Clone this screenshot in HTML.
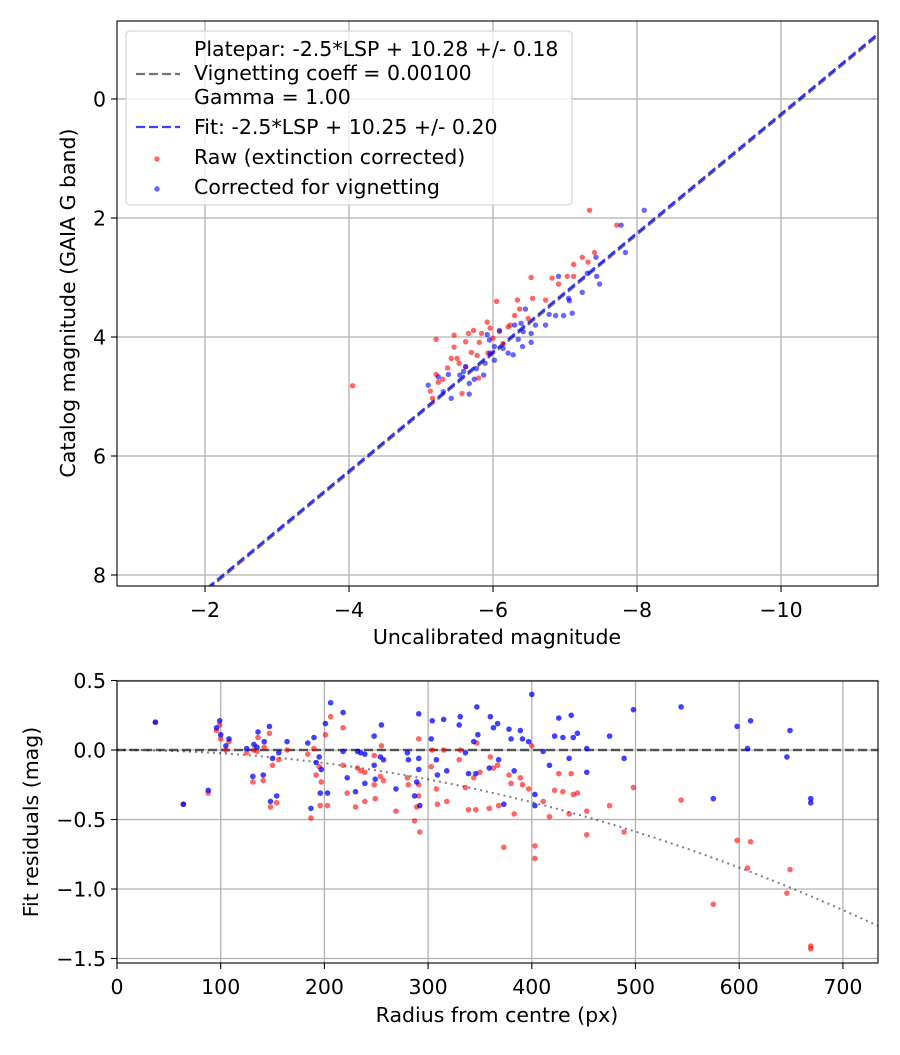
<!DOCTYPE html>
<html><head><meta charset="utf-8"><style>
html,body{margin:0;padding:0;background:#fff;}
svg text{font-family:"DejaVu Sans","Liberation Sans",sans-serif;fill:#000;}
</style></head><body>
<svg id="fig" width="900" height="1050" xmlns="http://www.w3.org/2000/svg"></svg>
<script>
// ---------- Top chart data ----------
const rawMag = [-7.34,-7.72,-7.41,-7.24,-7.12,-7.32,-6.53,-6.82,-6.91,-7.03,-7.12,-6.05,-6.34,-6.55,-6.73,-6.37,-6.49,-6.30,-5.92,-5.96,-5.73,-5.66,-5.46,-5.21,-5.46,-5.62,-5.81,-5.84,-5.70,-5.78,-5.50,-5.42,-5.53,-5.62,-5.37,-5.21,-5.30,-5.24,-5.13,-5.16,-5.57,-5.80,-6.21,-6.24,-6.09,-6.00,-6.14,-5.93,-4.05];
const rawCat = [1.87,2.12,2.58,2.66,2.78,2.74,3.00,3.01,3.11,2.98,2.98,3.40,3.38,3.35,3.38,3.53,3.69,3.64,3.75,3.85,3.89,3.94,3.97,4.04,4.17,4.08,4.09,3.94,4.26,4.31,4.36,4.36,4.44,4.50,4.52,4.63,4.71,4.76,4.91,5.03,4.95,4.69,3.83,3.80,3.91,4.02,4.11,4.27,4.82];
const corMag = [-8.10,-7.78,-7.84,-7.43,-7.31,-7.44,-7.48,-6.91,-7.05,-7.06,-7.24,-7.10,-6.98,-6.87,-6.78,-6.73,-6.59,-6.45,-6.39,-6.53,-6.53,-6.41,-6.35,-6.28,-6.21,-6.14,-6.09,-6.02,-5.92,-5.96,-5.89,-5.77,-5.87,-5.62,-5.59,-5.54,-5.74,-5.67,-5.38,-5.24,-5.10,-5.31,-5.42,-5.67,-6.42,-6.30,-6.02,-5.95];
const corCat = [1.87,2.12,2.58,2.66,2.93,2.98,3.11,2.98,3.35,3.39,3.25,3.60,3.64,3.64,3.62,3.80,3.80,3.53,3.77,3.94,4.09,4.16,4.04,4.30,4.27,4.19,3.89,4.16,3.96,4.27,4.44,4.53,4.64,4.50,4.58,4.64,4.71,4.78,4.63,4.67,4.81,4.92,5.03,4.96,3.91,3.80,4.39,4.05];
const platepar = [10.28];
const fitZero = [10.25];
const topXTicks = [-2,-4,-6,-8,-10];
const topYTicks = [0,2,4,6,8];
// ---------- Bottom chart data ----------
const redR = [37,64,88,96,99,100,105,108,125,131,132,136,135,141,142,147,148,150,154,156,164,184,187,190,192,195,197,196,201,203,206,218,218,222,230,232,235,239,239,248,248,249,254,255,257,269,280,281,287,291,291,292,289,291,303,304,308,309,315,318,330,331,336,339,344,346,347,359,360,363,350,367,368,373,378,380,383,389,391,397,400,403,403,411,417,422,426,430,436,438,440,444,453,453,475,489,498,544,575,598,608,611,646,649,669,669];
const redRes = [0.20,-0.39,-0.31,0.14,0.18,0.08,0.00,0.06,-0.02,-0.23,0.00,0.09,-0.01,-0.22,0.02,0.12,-0.41,-0.11,-0.38,-0.07,0.00,-0.03,-0.49,0.01,-0.18,-0.12,-0.23,-0.40,0.11,-0.40,0.24,0.16,-0.11,-0.31,-0.41,-0.13,-0.15,-0.37,-0.16,-0.04,-0.25,-0.35,-0.19,0.03,-0.22,-0.44,-0.20,-0.25,-0.51,0.08,-0.25,-0.59,-0.41,-0.33,-0.12,0.00,-0.28,-0.39,0.00,-0.37,-0.07,0.00,-0.27,-0.43,-0.20,-0.43,0.05,-0.42,-0.05,-0.13,-0.16,-0.11,-0.40,-0.70,-0.18,-0.24,-0.46,-0.20,-0.25,-0.28,0.03,-0.69,-0.78,-0.37,-0.48,-0.29,-0.17,-0.30,-0.46,-0.17,-0.32,-0.31,-0.44,-0.61,-0.40,-0.59,-0.27,-0.36,-1.11,-0.65,-0.85,-0.66,-1.03,-0.86,-1.41,-1.43];
const blueR = [37,64,88,96,99,100,105,108,125,131,132,135,136,141,142,147,148,150,154,156,164,184,187,190,192,195,196,197,201,203,206,218,218,222,230,232,235,239,239,248,248,249,254,255,257,269,280,281,287,291,291,291,289,292,303,304,308,309,315,318,330,331,336,339,344,346,347,348,359,360,363,367,378,380,389,391,397,400,411,417,422,426,430,436,438,440,444,453,453,475,489,498,544,575,598,608,611,646,649,669,669,368,373,383,403,403];
const blueRes = [0.20,-0.39,-0.29,0.16,0.21,0.11,0.03,0.08,0.01,-0.19,0.04,0.02,0.13,-0.18,0.06,0.17,-0.37,-0.06,-0.33,-0.02,0.06,0.05,-0.42,0.09,-0.09,-0.05,-0.31,-0.14,0.19,-0.31,0.34,0.27,-0.01,-0.20,-0.30,-0.01,-0.02,-0.24,-0.03,0.10,-0.11,-0.21,-0.05,0.18,-0.07,-0.28,-0.02,-0.07,-0.33,0.26,-0.06,-0.14,-0.23,-0.40,0.08,0.21,-0.07,-0.18,0.22,-0.15,0.18,0.24,-0.02,-0.17,0.06,-0.17,0.31,0.11,-0.13,0.24,0.16,0.19,0.15,0.08,0.14,0.08,0.06,0.40,-0.01,-0.11,0.10,0.23,0.09,-0.06,0.25,0.09,0.12,0.01,-0.16,0.10,-0.06,0.29,0.31,-0.35,0.17,0.01,0.21,-0.05,0.14,-0.35,-0.38,-0.07,-0.39,-0.15,-0.32,-0.40];
const vignCoeff = [2.35e-6];
const botXTicks = [0,100,200,300,400,500,600,700];
const botYTicks = [0.5,0.0,-0.5,-1.0,-1.5];
const botYLabels = ["0.5","0.0","\u22120.5","\u22121.0","\u22121.5"];

const FS = 20.5;
const NS = "http://www.w3.org/2000/svg";
const svg = document.getElementById('fig');
function mk(tag, attrs, parent){const e=document.createElementNS(NS,tag);for(const k in attrs)e.setAttribute(k,attrs[k]);(parent||svg).appendChild(e);return e;}
function txt(s,x,y,attrs,parent){const e=mk('text',Object.assign({x:x,y:y,'font-size':FS},attrs),parent);e.textContent=s;return e;}

const T={l:117,r:878,t:21,b:586};
const tx=v=>205+(-2-v)*72;
const ty=v=>99+v*59.5;
const B={l:117,r:878,t:681,b:963};
const bx=v=>117+v*1.037;
const by=v=>750-v*139;

const gTop=mk('g',{});


const cpt=mk('clipPath',{id:'ct'},gTop);mk('rect',{x:T.l,y:T.t,width:T.r-T.l,height:T.b-T.t},cpt);
topXTicks.forEach(v=>{const x=tx(v);
 const g=mk('line',{x1:x,x2:x,y1:T.t,y2:T.b,stroke:'#b0b0b0','stroke-width':1.3},gTop);
 
 mk('line',{x1:x,x2:x,y1:T.b,y2:T.b+6,stroke:'#000','stroke-width':1.1},gTop);
 const t=txt(v<0?'\u2212'+Math.abs(v):String(v),x,T.b+31,{'text-anchor':'middle'},gTop);
 });
topYTicks.forEach(v=>{const y=ty(v);
 const g=mk('line',{x1:T.l,x2:T.r,y1:y,y2:y,stroke:'#b0b0b0','stroke-width':1.3},gTop);
 
 mk('line',{x1:T.l-6,x2:T.l,y1:y,y2:y,stroke:'#000','stroke-width':1.1},gTop);
 const t=txt(String(v),T.l-11,y+7.5,{'text-anchor':'end'},gTop);
 });
const cTop=mk('g',{'clip-path':'url(#ct)'},gTop);
function fitLine(zp,color,name,w){const x1=-0.5,x2=-12;
 const l=mk('line',{x1:tx(x1),y1:ty(x1+zp),x2:tx(x2),y2:ty(x2+zp),stroke:color,'stroke-width':w,'stroke-dasharray':'9,4'},cTop);
 }
fitLine(platepar[0],'rgba(0,0,0,0.55)','platepar-line',2.4);
fitLine(fitZero[0],'rgba(0,0,255,0.75)','fit-line',2.4);
rawMag.forEach((m,i)=>{const c=mk('circle',{cx:tx(m),cy:ty(rawCat[i]),r:2.7,fill:'rgba(255,0,0,0.6)'},cTop);
 });
corMag.forEach((m,i)=>{const c=mk('circle',{cx:tx(m),cy:ty(corCat[i]),r:2.7,fill:'rgba(0,0,255,0.6)'},cTop);
 });
mk('rect',{x:T.l,y:T.t,width:T.r-T.l,height:T.b-T.t,fill:'none',stroke:'#000','stroke-width':1.1},gTop);
// legend
const lg=mk('g',{},gTop);

mk('rect',{x:126,y:31,width:446,height:174,rx:4,fill:'rgba(255,255,255,0.8)',stroke:'#ccc','stroke-width':1},lg);
txt('Platepar: -2.5*LSP + 10.28 +/- 0.18',194,56,{},lg);
mk('line',{x1:136,x2:180,y1:74,y2:74,stroke:'rgba(0,0,0,0.55)','stroke-width':2.2,'stroke-dasharray':'9,4'},lg);
txt('Vignetting coeff = 0.00100',194,80,{},lg);
txt('Gamma = 1.00',194,104,{},lg);
mk('line',{x1:136,x2:180,y1:127,y2:127,stroke:'rgba(0,0,255,0.75)','stroke-width':2.2,'stroke-dasharray':'9,4'},lg);
txt('Fit: -2.5*LSP + 10.25 +/- 0.20',194,134,{},lg);
mk('circle',{cx:157,cy:159,r:2.7,fill:'rgba(255,0,0,0.6)'},lg);
txt('Raw (extinction corrected)',194,164,{},lg);
mk('circle',{cx:157,cy:189,r:2.7,fill:'rgba(0,0,255,0.6)'},lg);
txt('Corrected for vignetting',194,194,{},lg);
const xl=txt('Uncalibrated magnitude',497,644,{'text-anchor':'middle'},gTop);

const yl=txt('Catalog magnitude (GAIA G band)',0,0,{'text-anchor':'middle',transform:'translate(75,303) rotate(-90)'},gTop);


// bottom chart
const gB=mk('g',{});


const cp=mk('clipPath',{id:'cb'},gB);mk('rect',{x:B.l,y:B.t,width:B.r-B.l,height:B.b-B.t},cp);
botXTicks.forEach(v=>{const x=bx(v);
 const g=mk('line',{x1:x,x2:x,y1:B.t,y2:B.b,stroke:'#b0b0b0','stroke-width':1.3},gB);
 
 mk('line',{x1:x,x2:x,y1:B.b,y2:B.b+6,stroke:'#000','stroke-width':1.1},gB);
 const t=txt(String(v),x,B.b+31,{'text-anchor':'middle'},gB);
 });
botYTicks.forEach((v,i)=>{const y=by(v);
 const g=mk('line',{x1:B.l,x2:B.r,y1:y,y2:y,stroke:'#b0b0b0','stroke-width':1.3},gB);
 
 mk('line',{x1:B.l-6,x2:B.l,y1:y,y2:y,stroke:'#000','stroke-width':1.1},gB);
 const t=txt(botYLabels[i],B.l-11,y+7.5,{'text-anchor':'end'},gB);
 });
const cB=mk('g',{'clip-path':'url(#cb)'},gB);
const zl=mk('line',{x1:B.l,x2:B.r,y1:by(0),y2:by(0),stroke:'rgba(0,0,0,0.6)','stroke-width':2.4,'stroke-dasharray':'9,4'},cB);

let pts=[];for(let r=0;r<=740;r+=5)pts.push(bx(r)+','+by(-vignCoeff[0]*r*r));
const vc=mk('polyline',{points:pts.join(' '),fill:'none',stroke:'rgba(0,0,0,0.5)','stroke-width':2,'stroke-dasharray':'2,4'},cB);

redR.forEach((r,i)=>{const c=mk('circle',{cx:bx(r),cy:by(redRes[i]),r:2.8,fill:'rgba(255,0,0,0.6)'},cB);
 });
blueR.forEach((r,i)=>{const c=mk('circle',{cx:bx(r),cy:by(blueRes[i]),r:2.8,fill:'rgba(0,0,255,0.75)'},cB);
 });
mk('rect',{x:B.l,y:B.t,width:B.r-B.l,height:B.b-B.t,fill:'none',stroke:'#000','stroke-width':1.1},gB);
const bxl=txt('Radius from centre (px)',497,1022,{'text-anchor':'middle'},gB);

const byl=txt('Fit residuals (mag)',0,0,{'text-anchor':'middle',transform:'translate(38,822) rotate(-90)'},gB);

</script>
</body></html>
